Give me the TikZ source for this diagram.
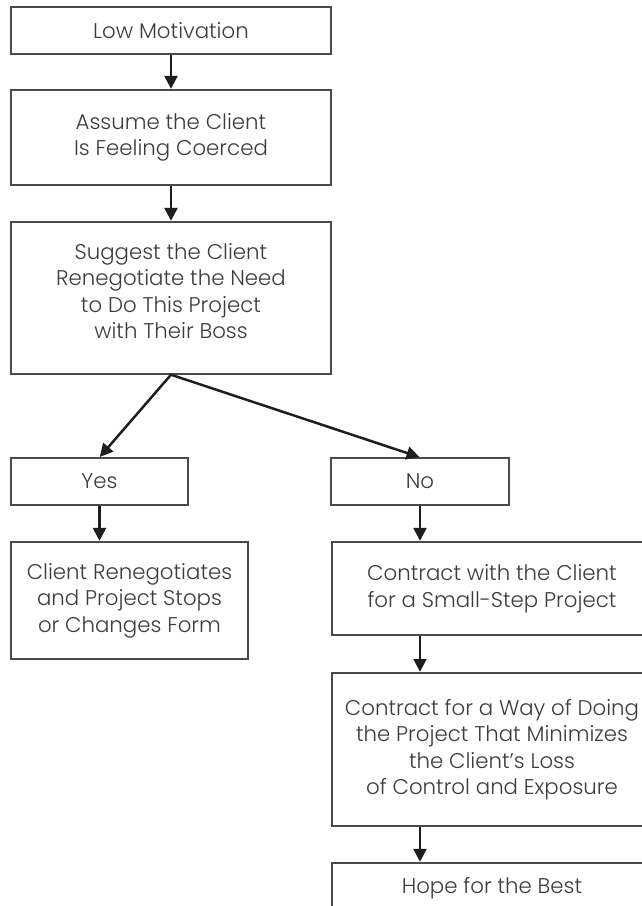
\documentclass[tikz,border=0pt]{standalone}
\usepackage{fontspec}
\setmainfont{Poppins Light}
\usetikzlibrary{arrows.meta}
\definecolor{inkline}{HTML}{4A4A4A}
\definecolor{inktext}{HTML}{3C3C3C}
\definecolor{inkarrow}{HTML}{1E1E1E}
\tikzset{
  box/.style={draw=inkline, line width=1.4pt, rectangle, inner sep=0pt,
    minimum width=320pt, align=center, text=inktext,
    font=\fontsize{21.3}{26.5}\selectfont},
  flow/.style={draw=inkarrow, line width=2.5pt,
    -{Triangle[length=13pt,width=13pt]}, shorten >=0.5pt},
  label text/.style={align=center, text=inktext, inner sep=0pt,
    font=\fontsize{21.3}{26.5}\selectfont}
}
\begin{document}
\begin{tikzpicture}[x=1pt,y=-1pt]
  \clip (0,0) rectangle (642,906);
  \fill[white] (0,0) rectangle (642,906);

  % left column
  \node[box, minimum height=47pt]  (low)     at (171,30.5)  {Low Motivation};
  \node[box, minimum height=95pt]  (assume)  at (171,137.5) {Assume the Client\\Is Feeling Coerced};
  \node[box, minimum height=152pt] (suggest) at (171,298)   {};
  \node[label text] (suggesttext) at (171,291)
    {Suggest the Client\\Renegotiate the Need\\to Do This Project\\with Their Boss};

  % branches
  \node[box, minimum width=177pt, minimum height=47pt] (yes) at (99.5,481.5) {Yes};
  \node[box, minimum width=178pt, minimum height=47pt] (no)  at (420,481.5)  {No};

  \node[box, minimum width=237pt, minimum height=117pt] (renego) at (129.5,600.5)
    {Client Renegotiates\\and Project Stops\\or Changes Form};

  % right column (runs past the right edge)
  \node[box, minimum height=93pt]  (small)   at (492,588.5) {Contract with the Client\\for a Small-Step Project};
  \node[box, minimum height=153pt] (way)     at (492,749.5)
    {Contract for a Way of Doing\\the Project That Minimizes\\the Client’s Loss\\of Control and Exposure};
  \node[box, minimum height=60pt]  (hope)    at (492,893)   {};
  \node[label text, anchor=base] (hopetext) at (492,893) {Hope for the Best};

  % connectors
  \draw[flow] (low.south) -- (assume.north);
  \draw[flow] (assume.south) -- (suggest.north);
  \draw[flow] (suggest.south) -- (yes.north);
  \draw[flow] (suggest.south) -- (no.north);
  \draw[flow] (yes.south) -- (renego.north -| yes.south);
  \draw[flow] (no.south) -- (small.north -| no.south);
  \draw[flow] (small.south -| no.south) -- (way.north -| no.south);
  \draw[flow] (way.south -| no.south) -- (hope.north -| no.south);
\end{tikzpicture}
\end{document}
